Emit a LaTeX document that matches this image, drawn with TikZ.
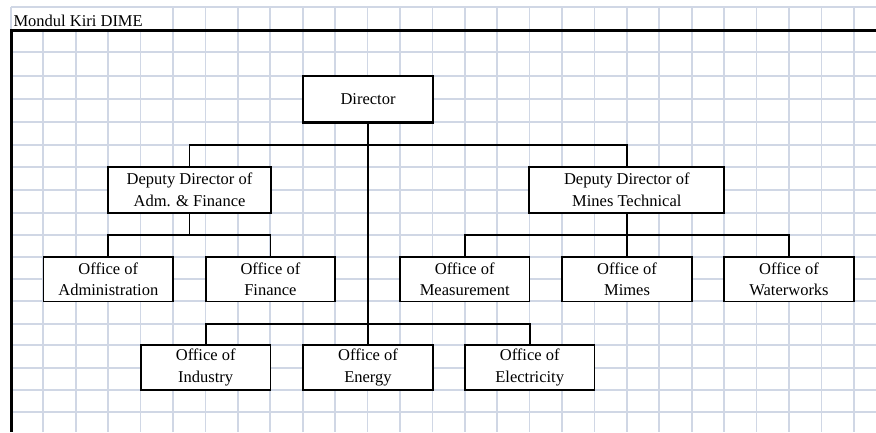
\documentclass[tikz,border=0pt]{standalone}
\usepackage{fontspec}
\setmainfont{Liberation Serif}
\definecolor{gridcol}{HTML}{D0D7E5}
\tikzset{
  cellgrid/.style={draw=gridcol, line width=1.7pt},
  frameline/.style={draw=black, line width=2.8pt},
  orgbox/.style={draw, fill=white, line width=1.8pt, align=center, inner sep=0pt,
    minimum height=44.4pt, minimum width=129.5pt, font=\fontsize{16.5}{21.7}\selectfont},
  topbox/.style={orgbox, line width=2.4pt, minimum height=46.6pt},
  link/.style={draw, line width=1.7pt}
}

\begin{document}
\begin{tikzpicture}[x=1pt,y=-1pt]
  \useasboundingbox (0,0) rectangle (876,432);
  % sheet cells
  \foreach \r in {7.3,30.7,52.3,75.7,99,122.3,145,166.7,190,212.7,235.3,257,279.3,301.3,323.7,345.3,367.7,389.7,412}
    \draw[cellgrid] (10.9,\r) -- (876,\r);
  \foreach \c in {0,5,6,...,26}
    \draw[cellgrid] ({10.9+32.42*\c},7.3) -- ({10.9+32.42*\c},432);
  \foreach \c in {1,...,4}
    \draw[cellgrid] ({10.9+32.42*\c},30.7) -- ({10.9+32.42*\c},432);
  \draw[frameline] (876,30.7) -- (11.6,30.7) -- (11.6,432);
  \node[anchor=base west, inner sep=0pt, font=\fontsize{16.5}{20}\selectfont] (title) at (13.3,26.6) {Mondul Kiri DIME};

  \node[topbox] (dir) at (368,99) {Director};
  \node[orgbox, minimum height=46pt, minimum width=162.4pt] (depadm) at (189.5,189.7) {Deputy Director of\\Adm. \& Finance};
  \node[orgbox, minimum height=46pt, minimum width=195pt] (depmin) at (626.8,189.7) {Deputy Director of\\Mines Technical};
  \foreach \name/\x/\y/\lab in {
    admin/108.3/279.2/Administration,
    finance/270.4/279.2/Finance,
    measure/464.7/279.2/Measurement,
    mimes/627/279.2/Mimes,
    water/789/279.2/Waterworks,
    industry/205.7/367.5/Industry,
    energy/368/367.5/Energy,
    elec/529.7/367.5/Electricity}
    \node[orgbox] (\name) at (\x,\y) {Office of\\\lab};

  \coordinate (upper) at (0,145);
  \coordinate (middle) at (0,235.3);
  \coordinate (lower) at (0,323.7);
  \draw[link] (dir.south) -- (energy.north);
  \draw[link] (depadm.north) |- (depmin.north |- upper) -- (depmin.north);
  \draw[link] (depadm.south) -- (depadm.south |- middle);
  \draw[link] (admin.north) |- (finance.north |- middle) -- (finance.north);
  \draw[link] (depmin.south) -- (depmin.south |- mimes.north);
  \draw[link] (measure.north) |- (water.north |- middle) -- (water.north);
  \draw[link] (industry.north) |- (elec.north |- lower) -- (elec.north);
\end{tikzpicture}
\end{document}
